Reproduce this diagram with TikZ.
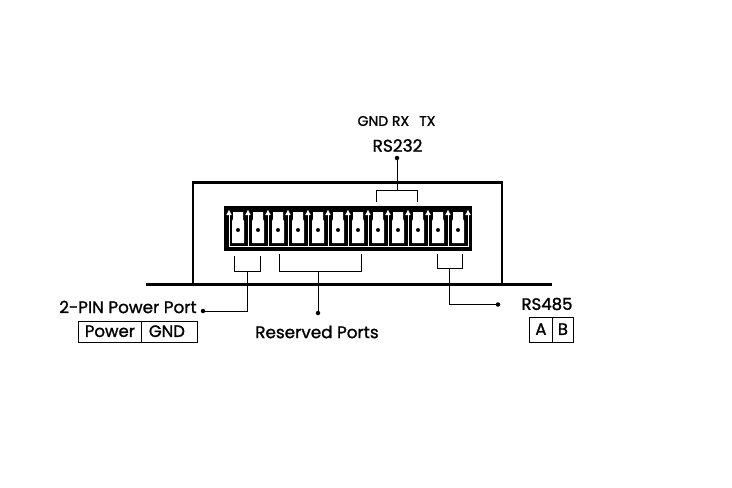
\documentclass[tikz,border=0pt]{standalone}
\usepackage{fontspec}
\setmainfont[FakeBold=1.2]{Poppins}
\newfontfamily\labfont[FakeBold=1.2]{Poppins}
\tikzset{
  wire/.style={draw=black,line width=1pt},
  heavy/.style={draw=black,line width=2.8pt},
  dotmark/.style={circle,fill=black,inner sep=0pt,minimum size=4.5pt},
  lab/.style={inner sep=0pt,text=black},
  cell/.style={draw=black,line width=0.8pt,inner sep=0pt,text=black,minimum height=21pt,font=\labfont\fontsize{16.5}{18}\selectfont},
  pindot/.style={circle,fill=black,inner sep=0pt,minimum size=4pt},
}
\begin{document}
\begin{tikzpicture}[x=1pt,y=-1pt]
\useasboundingbox (0,0) rectangle (732,488);
\fill[white] (0,0) rectangle (732,488);
% housing
\draw[heavy,line join=miter] (193,284) -- (193,182.5) -- (502,182.5) -- (502,284);
\draw[heavy] (146,284.5) -- (552,284.5);
% terminal block
\node[fill=black,minimum width=248pt,minimum height=45pt,inner sep=0pt,anchor=north west] (block) at (224,206) {};
\fill[white] (229,245.8) rectangle (468,246.8);
\foreach \x in {229,248,268,...,468}{
  \fill[white] (\x-0.5,214) rectangle (\x+0.5,246.8);
  \fill[white] (\x-2.7,215) -- (\x,210) -- (\x+2.7,215) -- cycle;
}
\foreach \c in {238,258,...,458}{
  \fill[white] (\c-5,212) -- (\c+5,212) -- (\c+5,219) -- (\c+6,221) -- (\c+6,243) -- (\c-6,243) -- (\c-6,221) -- (\c-5,219) -- cycle;
  \node[pindot] (pin\c) at (\c,230) {};
}
% RS232
\coordinate (a1) at (376,202); \coordinate (a2) at (376,190);
\coordinate (a3) at (417,190); \coordinate (a4) at (417,202);
\node[dotmark] (d232) at (397,158) {};
\coordinate (a5) at (397,190);
\draw[wire] (a1) -- (a2) -- (a3) -- (a4);
\draw[wire] (d232) -- (a5);
% power
\coordinate (b1) at (234,256); \coordinate (b2) at (234,271.5);
\coordinate (b3) at (260,271.5); \coordinate (b4) at (260,256);
\coordinate (b5) at (247.5,271.5); \coordinate (b6) at (247.5,311);
\node[dotmark] (dpow) at (203,311) {};
\draw[wire] (b1) -- (b2) -- (b3) -- (b4);
\draw[wire] (b5) -- (b6) -- (dpow);
% reserved
\coordinate (c1) at (279,254); \coordinate (c2) at (279,271.5);
\coordinate (c3) at (361,271.5); \coordinate (c4) at (361,254);
\coordinate (c5) at (318,271.5);
\node[dotmark] (dres) at (318,313) {};
\draw[wire] (c1) -- (c2) -- (c3) -- (c4);
\draw[wire] (c5) -- (dres);
% RS485
\coordinate (e1) at (437,254); \coordinate (e2) at (437,268);
\coordinate (e3) at (462,268); \coordinate (e4) at (462,254);
\coordinate (e5) at (449.5,268); \coordinate (e6) at (449.5,304.5);
\node[dotmark] (d485) at (498,304.5) {};
\draw[wire] (e1) -- (e2) -- (e3) -- (e4);
\draw[wire] (e5) -- (e6) -- (d485);
% labels
\node[lab,font=\labfont\fontsize{14}{15}\selectfont] (t1) at (396.5,121) {GND RX\hspace{10pt}TX};
\node[lab,font=\labfont\fontsize{17}{18}\selectfont] (t2) at (397.5,145.5) {RS232};
\node[lab,font=\labfont\fontsize{16.8}{18}\selectfont] (t3) at (128,307) {2-PIN Power Port};
\node[lab,font=\labfont\fontsize{16.8}{18}\selectfont] (t4) at (317,332) {Reserved Ports};
\node[lab,font=\labfont\fontsize{16.5}{18}\selectfont] (t5) at (547,304) {RS485};
% tables
\node[cell,minimum width=63pt,anchor=north west] (c1p) at (78,321) {\raisebox{1.5pt}{Power}};
\node[cell,minimum width=56pt,anchor=north west] (c1g) at (141,321) {\raisebox{1.5pt}{GND\hspace{5pt}}};
\node[cell,minimum width=23pt,minimum height=25pt,anchor=north west] (c2a) at (529,317) {\raisebox{1.5pt}{A}};
\node[cell,minimum width=21pt,minimum height=25pt,anchor=north west] (c2b) at (552,317) {\raisebox{1.5pt}{B}};
\end{tikzpicture}
\end{document}
